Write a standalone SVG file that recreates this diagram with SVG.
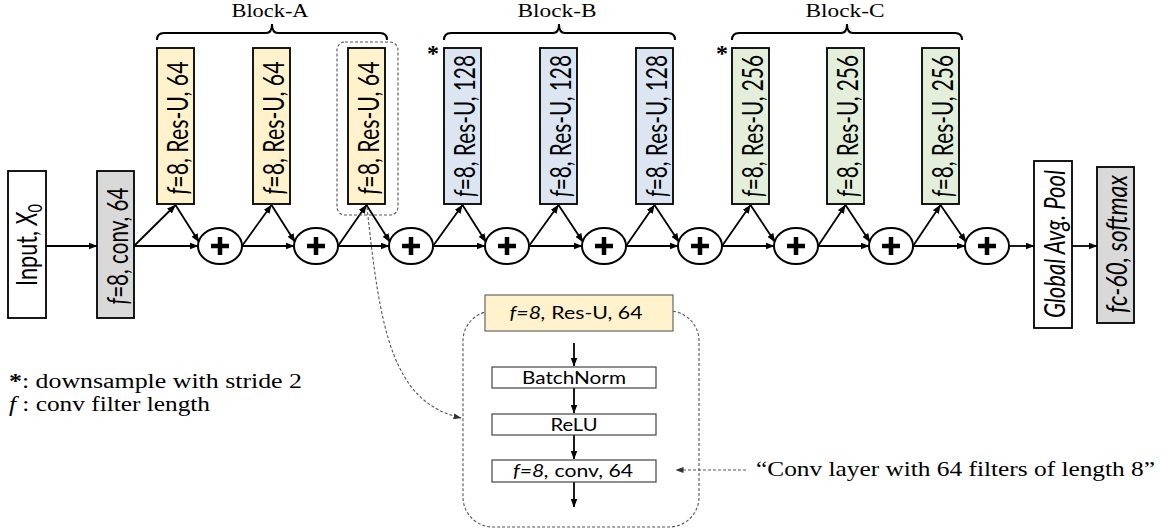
<svg xmlns="http://www.w3.org/2000/svg" width="1162" height="529" viewBox="0 0 1162 529">
<style>
.bx{stroke:#000;stroke-width:1.8}
.ya{fill:#FFF2CC}.bb{fill:#DCE6F2}.gc{fill:#E3EFDA}.gr{fill:#D9D9D9}.wh{fill:#fff}
.vt{font-family:Lato,"Open Sans","Liberation Sans",sans-serif;font-size:21px;fill:#000}
.it{font-style:italic}
.ht{font-family:Lato,"Open Sans","Liberation Sans",sans-serif;font-size:18px;fill:#000}
.sr{font-family:"Liberation Serif","Times New Roman",serif;fill:#000}
.ln{stroke:#000;stroke-width:1.8;fill:none}
.cir{fill:#fff;stroke:#000;stroke-width:2}
.pl{stroke:#000;stroke-width:4.5}
.dash{stroke:#555;stroke-width:1.1;stroke-dasharray:3,2;fill:none}
.brace{stroke:#000;stroke-width:2;fill:none}
.ib{fill:#fff;stroke:#444;stroke-width:1.2}
</style>
<defs>
<marker id="ah" markerUnits="userSpaceOnUse" markerWidth="9" markerHeight="7" refX="8.5" refY="3.5" orient="auto"><path d="M0,0 L9,3.5 L0,7 z" fill="#000"/></marker>
<marker id="ahd" markerUnits="userSpaceOnUse" markerWidth="8" markerHeight="6" refX="7.5" refY="3" orient="auto"><path d="M0,0 L8,3 L0,6 z" fill="#333"/></marker>
</defs>

<!-- Block labels and braces -->
<g id="block-a-label">
<text class="sr" x="270" y="17" font-size="18" text-anchor="middle" textLength="77" lengthAdjust="spacingAndGlyphs">Block-A</text>
<path class="brace" d="M157,40 Q157,33 164,33 L266,33 Q272,33 272,24 Q272,33 278,33 L380,33 Q387,33 387,40"/>
</g>
<g id="block-b-label">
<text class="sr" x="557" y="17" font-size="18" text-anchor="middle" textLength="79" lengthAdjust="spacingAndGlyphs">Block-B</text>
<path class="brace" d="M444,40 Q444,33 451,33 L553,33 Q559,33 559,24 Q559,33 565,33 L668,33 Q675,33 675,40"/>
</g>
<g id="block-c-label">
<text class="sr" x="845" y="17" font-size="18" text-anchor="middle" textLength="79" lengthAdjust="spacingAndGlyphs">Block-C</text>
<path class="brace" d="M732,40 Q732,33 739,33 L841,33 Q847,33 847,24 Q847,33 853,33 L955,33 Q962,33 962,40"/>
</g>

<!-- Connectors -->
<g id="connectors">
<line class="ln" x1="46" y1="246" x2="97" y2="246" marker-end="url(#ah)"/>
<line class="ln" x1="134" y1="246" x2="198" y2="246" marker-end="url(#ah)"/>
<line class="ln" x1="134" y1="246" x2="175.5" y2="205" marker-end="url(#ah)"/>
<line class="ln" x1="175.5" y1="205" x2="199" y2="242" marker-end="url(#ah)"/>
<line class="ln" x1="242" y1="246" x2="294" y2="246" marker-end="url(#ah)"/>
<line class="ln" x1="242" y1="246" x2="271.5" y2="205" marker-end="url(#ah)"/>
<line class="ln" x1="271.5" y1="205" x2="295" y2="242" marker-end="url(#ah)"/>
<line class="ln" x1="338" y1="246" x2="389" y2="246" marker-end="url(#ah)"/>
<line class="ln" x1="338" y1="246" x2="366.5" y2="205" marker-end="url(#ah)"/>
<line class="ln" x1="366.5" y1="205" x2="390" y2="242" marker-end="url(#ah)"/>
<line class="ln" x1="433" y1="246" x2="485" y2="246" marker-end="url(#ah)"/>
<line class="ln" x1="433" y1="246" x2="462.5" y2="205" marker-end="url(#ah)"/>
<line class="ln" x1="462.5" y1="205" x2="486" y2="242" marker-end="url(#ah)"/>
<line class="ln" x1="529" y1="246" x2="582" y2="246" marker-end="url(#ah)"/>
<line class="ln" x1="529" y1="246" x2="558.5" y2="205" marker-end="url(#ah)"/>
<line class="ln" x1="558.5" y1="205" x2="583" y2="242" marker-end="url(#ah)"/>
<line class="ln" x1="626" y1="246" x2="678" y2="246" marker-end="url(#ah)"/>
<line class="ln" x1="626" y1="246" x2="654.5" y2="205" marker-end="url(#ah)"/>
<line class="ln" x1="654.5" y1="205" x2="679" y2="242" marker-end="url(#ah)"/>
<line class="ln" x1="722" y1="246" x2="774" y2="246" marker-end="url(#ah)"/>
<line class="ln" x1="722" y1="246" x2="750.5" y2="205" marker-end="url(#ah)"/>
<line class="ln" x1="750.5" y1="205" x2="775" y2="242" marker-end="url(#ah)"/>
<line class="ln" x1="818" y1="246" x2="869" y2="246" marker-end="url(#ah)"/>
<line class="ln" x1="818" y1="246" x2="845.5" y2="205" marker-end="url(#ah)"/>
<line class="ln" x1="845.5" y1="205" x2="870" y2="242" marker-end="url(#ah)"/>
<line class="ln" x1="913" y1="246" x2="965" y2="246" marker-end="url(#ah)"/>
<line class="ln" x1="913" y1="246" x2="940.5" y2="205" marker-end="url(#ah)"/>
<line class="ln" x1="940.5" y1="205" x2="966" y2="242" marker-end="url(#ah)"/>
<line class="ln" x1="1009" y1="246" x2="1034" y2="246" marker-end="url(#ah)"/>
<line class="ln" x1="1072" y1="246" x2="1097" y2="246" marker-end="url(#ah)"/>
<path class="dash" d="M367,207 C380,330 392,402 461,418" marker-end="url(#ahd)"/>
<line class="dash" x1="746" y1="470" x2="676" y2="470" marker-end="url(#ahd)"/>
<line class="ln" x1="574" y1="343" x2="574" y2="366" marker-end="url(#ah)"/>
<line class="ln" x1="574" y1="388" x2="574" y2="413" marker-end="url(#ah)"/>
<line class="ln" x1="574" y1="435" x2="574" y2="459" marker-end="url(#ah)"/>
<line class="ln" x1="574" y1="482" x2="574" y2="507" marker-end="url(#ah)"/>
</g>

<!-- Nodes -->
<g id="input">
<rect class="bx wh" x="8" y="171" width="38" height="147"/>
<text class="vt" transform="translate(37,245) scale(1.35,1) rotate(-90)" text-anchor="middle" textLength="82" lengthAdjust="spacingAndGlyphs">Input, <tspan class="it">X</tspan><tspan font-size="14" dy="4">0</tspan></text>
</g>
<g id="conv">
<rect class="bx gr" x="97" y="171" width="37" height="147"/>
<text class="vt" transform="translate(128,246) scale(1.35,1) rotate(-90)" text-anchor="middle" textLength="117" lengthAdjust="spacingAndGlyphs"><tspan class="it">f</tspan>=8, conv, 64</text>
</g>

<g id="res-a1">
<rect class="bx ya" x="157" y="48" width="37" height="156"/>
<text class="vt" transform="translate(188,128) scale(1.35,1) rotate(-90)" text-anchor="middle" textLength="133" lengthAdjust="spacingAndGlyphs"><tspan class="it">f</tspan>=8, Res-U, 64</text>
</g>
<g id="res-a2">
<rect class="bx ya" x="253" y="48" width="37" height="156"/>
<text class="vt" transform="translate(284,128) scale(1.35,1) rotate(-90)" text-anchor="middle" textLength="133" lengthAdjust="spacingAndGlyphs"><tspan class="it">f</tspan>=8, Res-U, 64</text>
</g>
<g id="res-a3">
<rect class="dash" x="337" y="42" width="61" height="173" rx="8"/>
<rect class="bx ya" x="348" y="48" width="37" height="156"/>
<text class="vt" transform="translate(379,128) scale(1.35,1) rotate(-90)" text-anchor="middle" textLength="133" lengthAdjust="spacingAndGlyphs"><tspan class="it">f</tspan>=8, Res-U, 64</text>
</g>

<g id="res-b1">
<rect class="bx bb" x="444" y="48" width="37" height="156"/>
<text class="vt" transform="translate(475,126) scale(1.35,1) rotate(-90)" text-anchor="middle" textLength="142" lengthAdjust="spacingAndGlyphs"><tspan class="it">f</tspan>=8, Res-U, 128</text>
<text class="sr" x="433" y="61" font-size="24" font-weight="bold" text-anchor="middle">*</text>
</g>
<g id="res-b2">
<rect class="bx bb" x="540" y="48" width="37" height="156"/>
<text class="vt" transform="translate(571,126) scale(1.35,1) rotate(-90)" text-anchor="middle" textLength="142" lengthAdjust="spacingAndGlyphs"><tspan class="it">f</tspan>=8, Res-U, 128</text>
</g>
<g id="res-b3">
<rect class="bx bb" x="636" y="48" width="37" height="156"/>
<text class="vt" transform="translate(667,126) scale(1.35,1) rotate(-90)" text-anchor="middle" textLength="142" lengthAdjust="spacingAndGlyphs"><tspan class="it">f</tspan>=8, Res-U, 128</text>
</g>

<g id="res-c1">
<rect class="bx gc" x="732" y="48" width="37" height="156"/>
<text class="vt" transform="translate(763,126) scale(1.35,1) rotate(-90)" text-anchor="middle" textLength="142" lengthAdjust="spacingAndGlyphs"><tspan class="it">f</tspan>=8, Res-U, 256</text>
<text class="sr" x="722" y="61" font-size="24" font-weight="bold" text-anchor="middle">*</text>
</g>
<g id="res-c2">
<rect class="bx gc" x="827" y="48" width="37" height="156"/>
<text class="vt" transform="translate(858,126) scale(1.35,1) rotate(-90)" text-anchor="middle" textLength="142" lengthAdjust="spacingAndGlyphs"><tspan class="it">f</tspan>=8, Res-U, 256</text>
</g>
<g id="res-c3">
<rect class="bx gc" x="922" y="48" width="37" height="156"/>
<text class="vt" transform="translate(953,126) scale(1.35,1) rotate(-90)" text-anchor="middle" textLength="142" lengthAdjust="spacingAndGlyphs"><tspan class="it">f</tspan>=8, Res-U, 256</text>
</g>

<g id="sum1"><ellipse class="cir" cx="220" cy="246" rx="22" ry="18"/><path class="pl" d="M211,246 H229 M220,237 V255"/></g>
<g id="sum2"><ellipse class="cir" cx="316" cy="246" rx="22" ry="18"/><path class="pl" d="M307,246 H325 M316,237 V255"/></g>
<g id="sum3"><ellipse class="cir" cx="411" cy="246" rx="22" ry="18"/><path class="pl" d="M402,246 H420 M411,237 V255"/></g>
<g id="sum4"><ellipse class="cir" cx="507" cy="246" rx="22" ry="18"/><path class="pl" d="M498,246 H516 M507,237 V255"/></g>
<g id="sum5"><ellipse class="cir" cx="604" cy="246" rx="22" ry="18"/><path class="pl" d="M595,246 H613 M604,237 V255"/></g>
<g id="sum6"><ellipse class="cir" cx="700" cy="246" rx="22" ry="18"/><path class="pl" d="M691,246 H709 M700,237 V255"/></g>
<g id="sum7"><ellipse class="cir" cx="796" cy="246" rx="22" ry="18"/><path class="pl" d="M787,246 H805 M796,237 V255"/></g>
<g id="sum8"><ellipse class="cir" cx="891" cy="246" rx="22" ry="18"/><path class="pl" d="M882,246 H900 M891,237 V255"/></g>
<g id="sum9"><ellipse class="cir" cx="987" cy="246" rx="22" ry="18"/><path class="pl" d="M978,246 H996 M987,237 V255"/></g>

<g id="gap">
<rect class="bx wh" x="1034" y="161" width="38" height="167"/>
<text class="vt it" transform="translate(1065,244) scale(1.35,1) rotate(-90)" text-anchor="middle" textLength="148" lengthAdjust="spacingAndGlyphs">Global Avg. Pool</text>
</g>
<g id="fc">
<rect class="bx gr" x="1097" y="167" width="37" height="156"/>
<text class="vt it" transform="translate(1127,244) scale(1.35,1) rotate(-90)" text-anchor="middle" textLength="138" lengthAdjust="spacingAndGlyphs">fc-60, softmax</text>
</g>

<!-- Inset detail of residual unit -->
<g id="inset">
<rect class="dash" x="463" y="311" width="236" height="216" rx="30"/>
<rect x="485" y="295" width="188" height="36" fill="#FFF2CC" stroke="#666" stroke-width="1.2"/>
<text class="ht" x="576" y="319" text-anchor="middle" textLength="133" lengthAdjust="spacingAndGlyphs"><tspan class="it">f=8,</tspan> Res-U, 64</text>
</g>
<g id="batchnorm">
<rect class="ib" x="492" y="367" width="164" height="21"/>
<text class="ht" x="574" y="384" text-anchor="middle" textLength="104" lengthAdjust="spacingAndGlyphs">BatchNorm</text>
</g>
<g id="relu">
<rect class="ib" x="492" y="414" width="164" height="21"/>
<text class="ht" x="574" y="431" text-anchor="middle" textLength="47" lengthAdjust="spacingAndGlyphs">ReLU</text>
</g>
<g id="conv-detail">
<rect class="ib" x="492" y="460" width="164" height="22"/>
<text class="ht" x="573" y="477" text-anchor="middle" textLength="120" lengthAdjust="spacingAndGlyphs"><tspan class="it">f=8,</tspan> conv, 64</text>
</g>

<g id="legend">
<text class="sr" x="9" y="388" font-size="20" textLength="293" lengthAdjust="spacingAndGlyphs"><tspan font-weight="bold">*</tspan>: downsample with stride 2</text>
<text class="sr" x="9" y="411" font-size="20" textLength="201" lengthAdjust="spacingAndGlyphs"><tspan class="it">f</tspan> : conv filter length</text>
</g>
<g id="note">
<text class="sr" x="756" y="476" font-size="21" textLength="399" lengthAdjust="spacingAndGlyphs">“Conv layer with 64 filters of length 8”</text>
</g>
</svg>
